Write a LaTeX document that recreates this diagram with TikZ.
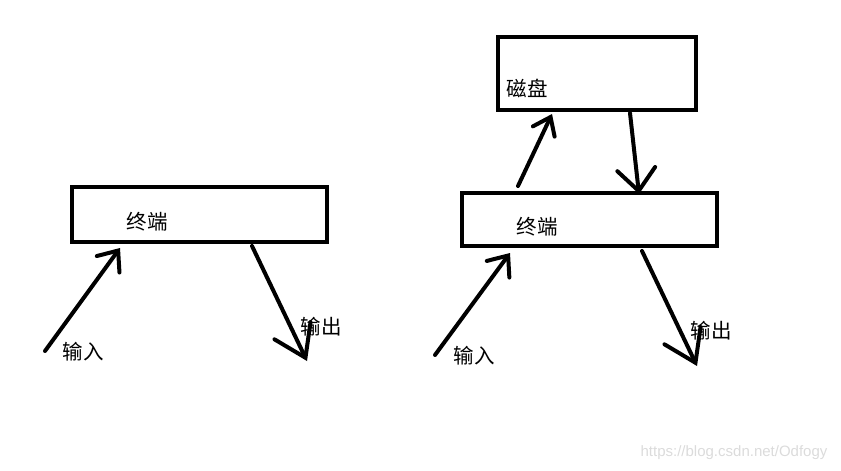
\documentclass[tikz,border=0pt]{standalone}
\usepackage{fontspec}
\setmainfont{Liberation Sans}
\newfontfamily\cjk{Noto Sans CJK SC}
\usetikzlibrary{arrows.meta}
\begin{document}
\begin{tikzpicture}[x=1pt,y=-1pt,
  boxnode/.style={draw=black,line width=4pt,minimum width=#1,inner sep=0pt},
  lbl/.style={font=\cjk\fontsize{20.5}{20.5}\selectfont,inner sep=0pt,text=black},
  stroke/.style={line width=4pt,line cap=round,line join=round},
  barb/.style 2 args={stroke,-{Straight Barb[length=#1pt,width=#2pt,line cap=round]}}
]
\useasboundingbox (0,0) rectangle (841,471);
% left terminal
\node[boxnode=255pt,minimum height=55pt] (t1) at (199.5,214.5) {};
\node[lbl] (t1l) at (147,222) {终端};
% right terminal
\node[boxnode=255pt,minimum height=53pt] (t2) at (589.5,219.5) {};
\node[lbl] (t2l) at (537,227) {终端};
% disk
\node[boxnode=198pt,minimum height=73pt] (d) at (597,73.5) {};
\node[lbl] (dl) at (527,88) {磁盘};
% labels
\node[lbl] (in1) at (83,352) {输入};
\node[lbl] (out1) at (321,327) {输出};
\node[lbl] (in2) at (474,356) {输入};
\node[lbl] (out2) at (711,331) {输出};
% coordinates
\coordinate (a1s) at (45,351);
\coordinate (a1e) at (120,248);
\coordinate (b1s) at (252,246);
\coordinate (b1e) at (307,361);
\coordinate (a2s) at (435,355);
\coordinate (a2e) at (510,253);
\coordinate (b2s) at (642,251);
\coordinate (b2e) at (697,366);
\coordinate (us) at (518,186);
\coordinate (ue) at (552,114);
\coordinate (ds) at (630,113);
\coordinate (de) at (639,194);
% arrows
\draw[barb={17}{28}] (a1s) -- (a1e);
\draw[barb={30}{40}] (b1s) -- (b1e);
\draw[barb={17}{28}] (a2s) -- (a2e);
\draw[barb={30}{40}] (b2s) -- (b2e);
\draw[barb={16}{24}] (us) -- (ue);
\draw[barb={22}{38}] (ds) -- (de);
% watermark
\node[font=\fontsize{15}{15}\selectfont,text=black!14,inner sep=0pt] (wm) at (734,453) {https://blog.csdn.net/Odfogy};
\end{tikzpicture}
\end{document}
